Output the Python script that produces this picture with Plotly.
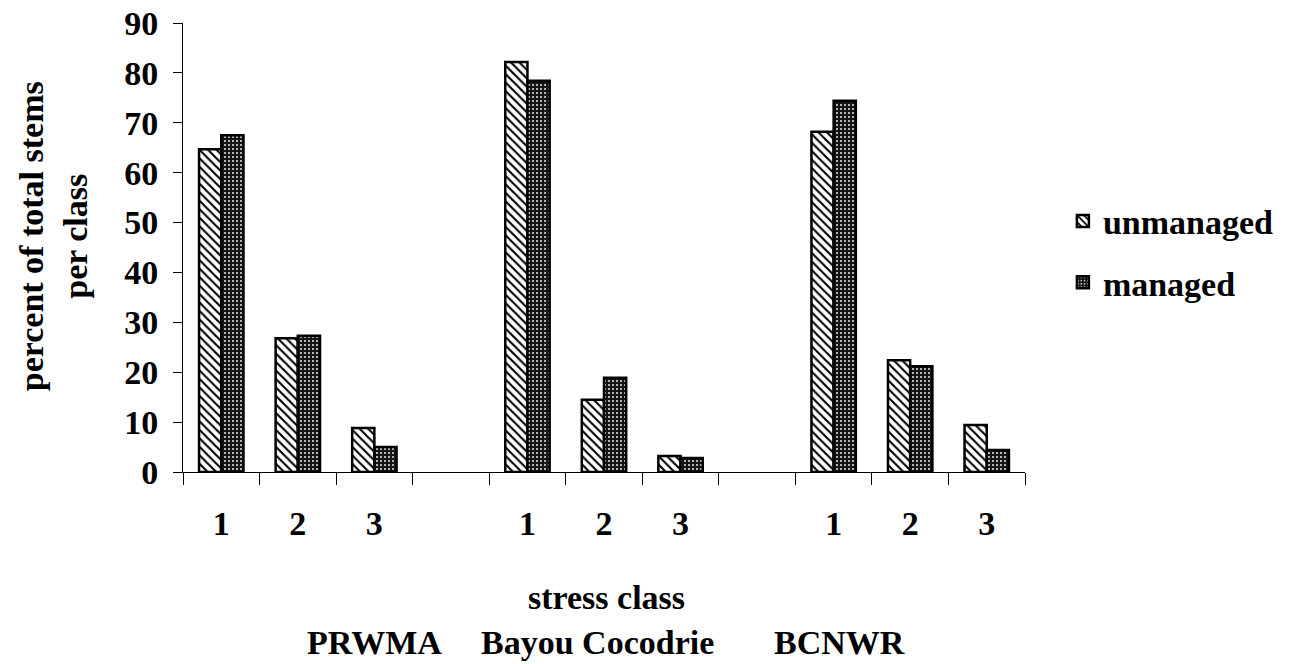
import plotly.graph_objects as go

classes = ["1", "2", "3"]
sites = ["PRWMA", "Bayou Cocodrie", "BCNWR"]
unmanaged = [64.7, 26.8, 8.8, 82.2, 14.5, 3.2, 68.2, 22.4, 9.4]
managed = [67.5, 27.3, 5.0, 78.4, 18.9, 2.8, 74.4, 21.2, 4.4]
y_ticks = [0, 10, 20, 30, 40, 50, 60, 70, 80, 90]

# slot positions: 3 classes per site, one blank slot between sites
xpos = []
labels = []
for s in range(len(sites)):
    for c in range(len(classes)):
        xpos.append(s * 4 + c)
        labels.append(classes[c])
n_slots = 4 * len(sites) - 1
boundaries = [i - 0.5 for i in range(n_slots + 1)]

FONT = "Liberation Serif"
fs = 34

fig = go.Figure()
fig.add_trace(go.Bar(
    x=xpos, y=unmanaged, name="unmanaged", legendgroup="a",
    marker=dict(color="white", line=dict(color="black", width=2.5),
                pattern=dict(shape="\\", fgcolor="black", bgcolor="white",
                             size=6, solidity=0.35, fillmode="replace")),
))
fig.add_trace(go.Bar(
    x=xpos, y=managed, name="managed", legendgroup="b",
    marker=dict(color="#151515", line=dict(color="black", width=2.5),
                pattern=dict(shape=".", fgcolor="#e8e8e8", bgcolor="#151515",
                             size=4, solidity=0.2, fillmode="replace")),
))
# invisible trace for the label axis
fig.add_trace(go.Scatter(x=xpos, y=[0] * len(xpos), xaxis="x2", mode="markers",
                         marker=dict(opacity=0), showlegend=False, hoverinfo="skip"))

fig.update_layout(
    width=1296, height=664,
    margin=dict(l=183, r=271, t=23, b=192, autoexpand=False),
    plot_bgcolor="white", paper_bgcolor="white",
    barmode="group", bargap=0.42, bargroupgap=0,
    font=dict(family=FONT, size=fs, color="black"),
    showlegend=True,
    legend=dict(x=1.045, y=0.49, xanchor="left", yanchor="middle",
                font=dict(family=FONT, size=fs, color="black", weight="bold"),
                traceorder="grouped", tracegroupgap=14, itemwidth=30),
    xaxis=dict(range=[-0.5, n_slots - 0.5], tickmode="array", tickvals=boundaries,
               ticktext=[""] * len(boundaries), ticks="outside", ticklen=12,
               tickcolor="black", tickwidth=1, showline=True, linecolor="black",
               linewidth=1, showgrid=False, zeroline=False, automargin=False),
    xaxis2=dict(overlaying="x", matches="x", range=[-0.5, n_slots - 0.5],
                tickmode="array", tickvals=xpos, ticktext=labels, ticks="",
                side="bottom", showgrid=False, zeroline=False, showline=False,
                ticklabelstandoff=28, automargin=False,
                tickfont=dict(family=FONT, size=fs, color="black", weight="bold")),
    yaxis=dict(range=[0, 90], tickmode="array", tickvals=y_ticks, ticks="outside",
               ticklen=9, tickcolor="black", tickwidth=1, showline=True,
               linecolor="black", linewidth=1, showgrid=False, zeroline=False,
               ticklabelstandoff=8, automargin=False,
               tickfont=dict(family=FONT, size=fs, color="black", weight="bold")),
)

annotations = [
    dict(text="percent of total stems<br>per class", xref="paper", yref="paper",
         x=0, y=0.525, xanchor="center", yanchor="middle", xshift=-130,
         textangle=-90, showarrow=False,
         font=dict(family=FONT, size=fs, color="black", weight="bold")),
    dict(text="stress class", xref="paper", yref="paper", x=0, y=0,
         xanchor="center", yanchor="middle", xshift=606 - 183, yshift=-(597 - 472),
         showarrow=False, font=dict(family=FONT, size=fs, color="black", weight="bold")),
]
site_centers = [374.5, 597, 839]
for name, cx in zip(sites, site_centers):
    annotations.append(dict(text=name, xref="paper", yref="paper", x=0, y=0,
                            xanchor="center", yanchor="middle", xshift=cx - 183,
                            yshift=-(642 - 472), showarrow=False,
                            font=dict(family=FONT, size=fs, color="black", weight="bold")))
fig.update_layout(annotations=annotations)

fig.write_html("out.html", config={"displayModeBar": False},
               post_script="document.body.style.margin='0';document.body.style.overflow='hidden';")
